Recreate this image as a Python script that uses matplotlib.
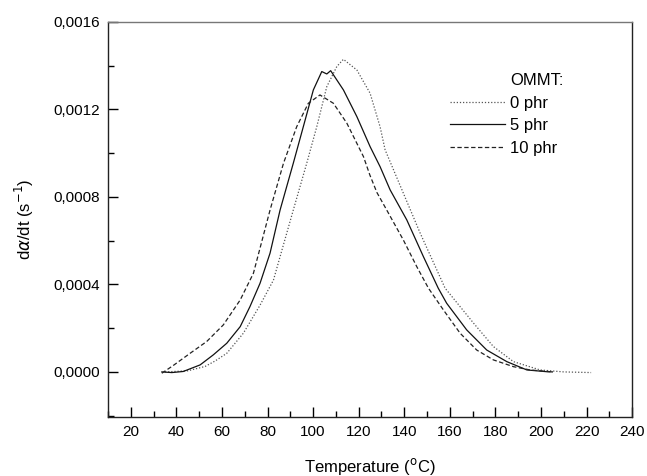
import matplotlib
matplotlib.use("Agg")
import matplotlib.pyplot as plt
from matplotlib.lines import Line2D
from matplotlib.ticker import MultipleLocator, FuncFormatter

plt.rcParams['font.family'] = ['Liberation Sans', 'DejaVu Sans']

# OMMT 0 phr (dotted)
t_0phr = [35, 45, 52.6, 57, 62.1, 69.4, 76.7, 82.6, 85.5, 91.3, 97.2, 101.6, 106, 110.4,
          113.3, 119.2, 125, 129.4, 131.6, 139.6, 147, 154.3, 157.9, 170.4, 179.1, 187.9,
          199.6, 210, 222]
r_0phr = [0.0, 0.000005, 0.000025, 0.00005, 0.000085, 0.000177, 0.000305, 0.00042, 0.000527,
          0.00074, 0.000954, 0.001121, 0.001304, 0.001396, 0.001429, 0.00138, 0.001274,
          0.00112, 0.001015, 0.000817, 0.000634, 0.000466, 0.000383, 0.000223, 0.000116,
          0.000047, 0.000009, 0.0, -0.000003]

# OMMT 5 phr (solid)
t_5phr = [33.6, 38, 43, 50.4, 56.2, 62.1, 68, 72.3, 76.7, 81.1, 85.5, 91.3, 95.7, 100.1,
          103.8, 106, 107.7, 113.3, 119.2, 125, 129.4, 133.8, 141.1, 148.4, 154.9, 158.6,
          167.4, 176.2, 185, 193.8, 202.5, 205]
r_5phr = [0.0, -0.000003, 0.000002, 0.000032, 0.000078, 0.000131, 0.000207, 0.000299,
          0.000405, 0.000543, 0.00074, 0.000954, 0.001121, 0.001289, 0.001373, 0.001362,
          0.001377, 0.001289, 0.001167, 0.00103, 0.000938, 0.000832, 0.000695, 0.000527,
          0.000383, 0.000314, 0.000192, 0.0001, 0.000047, 0.000009, 0.000001, 0.0]

# OMMT 10 phr (dashed)
t_10phr = [33.6, 38.7, 46, 53.3, 60.6, 68, 73.8, 81.1, 87, 92.8, 97.9, 103, 108.9, 114.8,
           122.1, 124.9, 128, 132.3, 139.6, 145.5, 150.6, 157.2, 164.5, 171.8, 179.1, 187.9,
           195.2, 205]
r_10phr = [-0.000006, 0.00003, 0.000085, 0.000139, 0.000215, 0.000329, 0.000451, 0.00074,
           0.000954, 0.001121, 0.001228, 0.001266, 0.001228, 0.001137, 0.000984, 0.0009,
           0.00082, 0.00074, 0.000603, 0.000481, 0.000383, 0.000283, 0.000177, 0.0001,
           0.000055, 0.000024, 0.000009, 0.0]

fig = plt.figure(figsize=(6.47, 4.76), dpi=100)
ax = fig.add_axes([0.167, 0.124, 0.81, 0.83])

ax.plot(t_0phr, r_0phr, color='#555555', lw=0.9, linestyle=(0, (1, 1.5)), label='0 phr')
ax.plot(t_5phr, r_5phr, color='#111111', lw=0.9, linestyle='-', label='5 phr')
ax.plot(t_10phr, r_10phr, color='#222222', lw=0.9, linestyle=(0, (3.5, 2)), label='10 phr')

ax.set_xlim(10, 240)
ax.set_ylim(-0.000206, 0.0016)
ax.xaxis.set_major_locator(MultipleLocator(20))
ax.xaxis.set_minor_locator(MultipleLocator(10))
ax.yaxis.set_major_locator(MultipleLocator(0.0004))
ax.yaxis.set_minor_locator(MultipleLocator(0.0002))
ax.yaxis.set_major_formatter(FuncFormatter(lambda v, p: f"{v:.4f}".replace('.', ',').replace('-0,0000', '0,0000')))
ax.tick_params(which='major', direction='in', length=7, width=1, labelsize=11, pad=6)
ax.tick_params(which='minor', direction='in', length=4, width=1)
ax.tick_params(top=False, right=False)

for s in ax.spines.values():
    s.set_linewidth(1.0)
    s.set_color('#222222')
ax.spines['top'].set_color('#777777')

ax.set_xlabel('Temperature ($^{\\mathrm{o}}$C)', fontsize=12, labelpad=12)
ax.set_ylabel('d$\\alpha$/dt (s$^{\\mathrm{-1}}$)', fontsize=12, labelpad=12)

# legend with "OMMT:" as a handle-less first row
title_handle = Line2D([], [], linestyle='none')
handles, labels = ax.get_legend_handles_labels()
ax.legend([title_handle] + handles, ['OMMT:'] + labels, loc='upper left',
          bbox_to_anchor=(0.653, 0.87), frameon=False, fontsize=12,
          handlelength=3.3, handletextpad=0.3, labelspacing=0.45, borderpad=0,
          borderaxespad=0)

fig.savefig('out.png', dpi=100)
